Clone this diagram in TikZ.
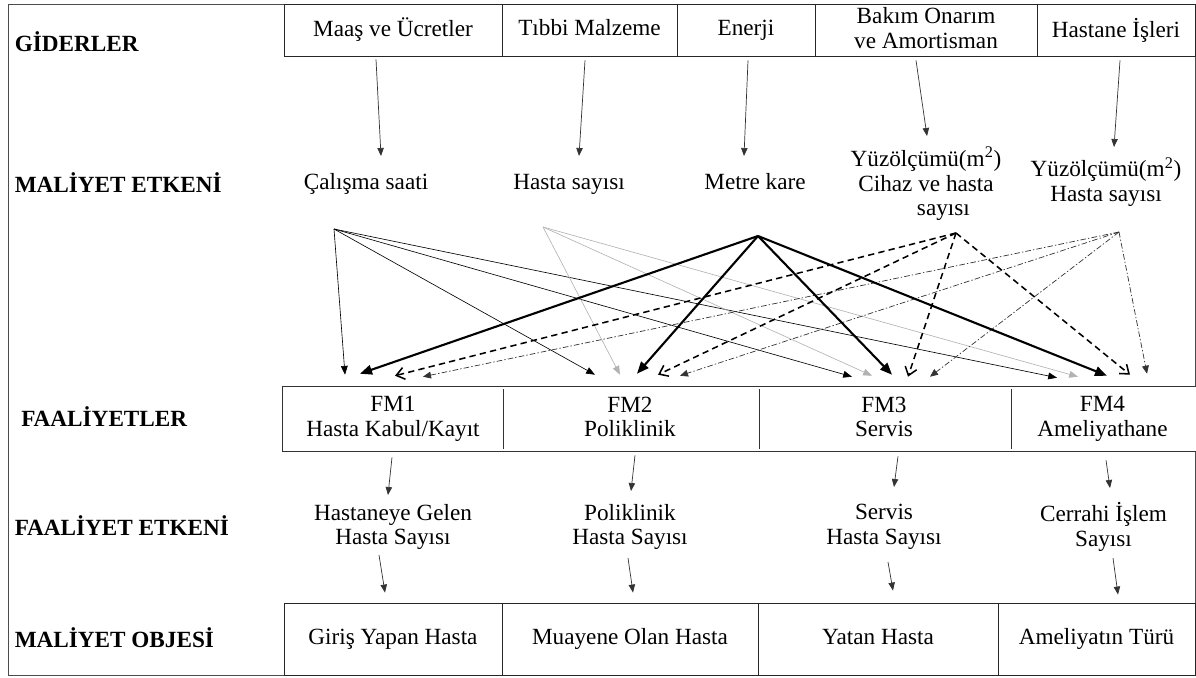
\documentclass[tikz,border=0pt]{standalone}
\usepackage{fontspec}
\setmainfont{Liberation Serif}
\usetikzlibrary{arrows.meta}
\usetikzlibrary{calc}

\newcommand{\dikme}{\rule[-3.3pt]{0pt}{14.2pt}}
\newcommand{\satir}{\\\dikme}
\newcommand{\yazitipi}{\fontsize{16.5}{17.5}\selectfont\lineskiplimit-100pt\relax}

\tikzset{
  cerceve/.style={draw=black!70, line width=0.6pt},
  kutu/.style={draw=black!85, line width=0.6pt, inner sep=0pt, align=center, execute at begin node=\dikme},
  fmkutu/.style={inner sep=0pt, align=center, execute at begin node=\dikme},
  fmcizgi/.style={draw=black!80, line width=0.45pt, double=white, double distance=1.4pt},
  yazi/.style={inner sep=0pt, align=center, execute at begin node=\dikme},
  baslik/.style={anchor=base west, inner sep=0pt, font=\yazitipi\bfseries},
  ok/.style={draw=black!80, line width=0.5pt, -{Triangle[length=2mm,width=1.6mm]}},
  calisok/.style={draw=black, line width=0.45pt, -{Triangle[length=2.2mm,width=1.7mm]}},
  hastaok/.style={draw=gray!60, line width=0.45pt, -{Triangle[length=2.2mm,width=1.7mm]}},
  metreok/.style={draw=black, line width=1.5pt, -{Triangle[length=3mm,width=2.4mm]}},
  bakimok/.style={draw=black, line width=1.1pt, dash pattern=on 4.5pt off 3pt, -{Straight Barb[length=2mm,width=3mm]}},
  hastaneok/.style={draw=black!80, line width=0.5pt, dash pattern=on 4pt off 1.5pt on 1pt off 1.5pt, -{Triangle[length=2mm,width=1.7mm]}}
}

\begin{document}
\begin{tikzpicture}[x=0.025cm,y=-0.025cm,font=\yazitipi]
        \newcommand{\ustkutuh}{1.3cm}
        \newcommand{\fmkutuh}{1.55cm}
        \newcommand{\altkutuh}{1.8cm}
        \useasboundingbox (0,0) rectangle (1196,677);
        \draw[cerceve] (8,4) rectangle (1195,675);
        \node[baslik] (lgider) at (14.5,51) {GİDERLER};
        \node[baslik] (lmetken) at (14.5,192) {MALİYET ETKENİ};
        \node[baslik] (lfaal) at (21,426) {FAALİYETLER};
        \node[baslik] (lfetken) at (14.5,535) {FAALİYET ETKENİ};
        \node[baslik] (lobje) at (14.5,647) {MALİYET OBJESİ};
        \node[kutu, minimum width=5.45cm, minimum height=\ustkutuh] (maas) at (393,30) {Maaş ve Ücretler};
        \node[kutu, minimum width=4.375cm, minimum height=\ustkutuh] (tibbi) at (589.5,30) {Tıbbi Malzeme};
        \node[kutu, minimum width=3.45cm, minimum height=\ustkutuh] (enerji) at (746,30) {Enerji};
        \node[kutu, minimum width=5.55cm, minimum height=\ustkutuh] (bakim) at (926,30) {Bakım Onarım\satir ve Amortisman};
        \node[kutu, minimum width=3.95cm, minimum height=\ustkutuh] (hastane) at (1116,30) {Hastane İşleri};
        \node[yazi] (calis) at (366,184) {Çalışma saati};
        \node[yazi] (hsay) at (569,184) {Hasta sayısı};
        \node[yazi] (metre) at (755,184) {Metre kare};
        \node[yazi] (yuza) at (926,184) {Yüzölçümü(m\textsuperscript{2})\satir Cihaz ve hasta\satir\hspace*{1.5em}sayısı};
        \node[yazi] (yuzb) at (1106,182) {Yüzölçümü(m\textsuperscript{2})\satir Hasta sayısı};
        \node[fmkutu, minimum width=5.45cm, minimum height=\fmkutuh] (fm1) at (393,419) {FM1\satir Hasta Kabul/Kayıt};
        \node[fmkutu, minimum width=6.4cm, minimum height=\fmkutuh] (fm2) at (630,419) {FM2\satir Poliklinik};
        \node[fmkutu, minimum width=6.3cm, minimum height=\fmkutuh] (fm3) at (884,419) {FM3\satir Servis};
        \node[fmkutu, minimum width=4.625cm, minimum height=\fmkutuh] (fm4) at (1102.5,419) {FM4\satir Ameliyathane};
        \draw[fmcizgi] (fm1.north east) -- (fm1.south east);
        \draw[fmcizgi] (fm2.north east) -- (fm2.south east);
        \draw[fmcizgi] (fm3.north east) -- (fm3.south east);
        \draw[fmcizgi] (fm1.north west) rectangle (fm4.south east);
        \node[yazi] (fe1) at (393,527) {Hastaneye Gelen\satir Hasta Sayısı};
        \node[yazi] (fe2) at (630,527) {Poliklinik\satir Hasta Sayısı};
        \node[yazi] (fe3) at (884,527) {Servis\satir Hasta Sayısı};
        \node[yazi] (fe4) at (1103.5,527) {Cerrahi İşlem\satir Sayısı};
        \node[kutu, minimum width=5.45cm, minimum height=\altkutuh] (obj1) at (393,639) {Giriş Yapan Hasta};
        \node[kutu, minimum width=6.4cm, minimum height=\altkutuh] (obj2) at (630,639) {Muayene Olan Hasta};
        \node[kutu, minimum width=6cm, minimum height=\altkutuh] (obj3) at (878,639) {Yatan Hasta};
        \node[kutu, minimum width=4.925cm, minimum height=\altkutuh] (obj4) at (1096.5,639) {Ameliyatın Türü};
        \draw[ok] ([shift={(-17,3)}]maas.south) -- ([shift={(15,-28)}]calis.center);
        \draw[ok] ([shift={(-4.5,4)}]tibbi.south) -- ([shift={(10,-28)}]hsay.center);
        \draw[ok] ([shift={(2,4)}]enerji.south) -- ([shift={(-11,-28)}]metre.center);
        \draw[ok] ([shift={(-10,4)}]bakim.south) -- ([shift={(1,-48)}]yuza.center);
        \draw[ok] ([shift={(4,4)}]hastane.south) -- ([shift={(8,-35)}]yuzb.center);
        \draw[ok] ([shift={(-1,7)}]fm1.south) -- ([shift={(-5,-32)}]fe1.center);
        \draw[ok] ([shift={(5,5)}]fm2.south) -- ([shift={(1,-36)}]fe2.center);
        \draw[ok] ([shift={(14,6)}]fm3.south) -- ([shift={(10,-40)}]fe3.center);
        \draw[ok] ([shift={(3.5,10)}]fm4.south) -- ([shift={(6.5,-39)}]fe4.center);
        \draw[ok] ([shift={(-14,28)}]fe1.center) -- ([shift={(-8,-10)}]obj1.north);
        \draw[ok] ([shift={(-2,31)}]fe2.center) -- ([shift={(3,-10)}]obj2.north);
        \draw[ok] ([shift={(4,35)}]fe3.center) -- ([shift={(15,-12)}]obj3.north);
        \draw[ok] ([shift={(9.5,31)}]fe4.center) -- ([shift={(21.5,-8)}]obj4.north);
        \coordinate (calisalt) at ([shift={(-32,45)}]calis.center);
        \coordinate (hsayalt) at ([shift={(-26,43)}]hsay.center);
        \coordinate (metrealt) at ([shift={(3,52)}]metre.center);
        \coordinate (yuzaalt) at ([shift={(30,49)}]yuza.center);
        \coordinate (yuzbalt) at ([shift={(13,50)}]yuzb.center);
        \draw[calisok] (calisalt) -- ([shift={(-48,-13)}]fm1.north);
        \draw[calisok] (calisalt) -- ([shift={(-35,-13)}]fm2.north);
        \draw[calisok] (calisalt) -- ([shift={(-32,-11)}]fm3.north);
        \draw[calisok] (calisalt) -- ([shift={(-45.5,-10)}]fm4.north);
        \draw[hastaok] (hsayalt) -- ([shift={(-10,-13)}]fm2.north);
        \draw[hastaok] (hsayalt) -- ([shift={(-12,-12)}]fm3.north);
        \draw[hastaok] (hsayalt) -- ([shift={(-24.5,-11)}]fm4.north);
        \draw[hastaneok] (yuzbalt) -- ([shift={(30,-11)}]fm1.north);
        \draw[hastaneok] (yuzbalt) -- ([shift={(50,-12)}]fm2.north);
        \draw[hastaneok] (yuzbalt) -- ([shift={(46,-11)}]fm3.north);
        \draw[hastaneok] (yuzbalt) -- ([shift={(44.5,-14)}]fm4.north);
        \draw[bakimok] (yuzaalt) -- ([shift={(2,-12)}]fm1.north);
        \draw[bakimok] (yuzaalt) -- ([shift={(28,-13)}]fm2.north);
        \draw[bakimok] (yuzaalt) -- ([shift={(24,-11)}]fm3.north);
        \draw[bakimok] (yuzaalt) -- ([shift={(27.5,-13)}]fm4.north);
        \draw[metreok] (metrealt) -- ([shift={(-33,-14)}]fm1.north);
        \draw[metreok] (metrealt) -- ([shift={(7,-14)}]fm2.north);
        \draw[metreok] (metrealt) -- ([shift={(8,-13)}]fm3.north);
        \draw[metreok] (metrealt) -- ([shift={(4.5,-12)}]fm4.north);
    \end{tikzpicture}
\end{document}
